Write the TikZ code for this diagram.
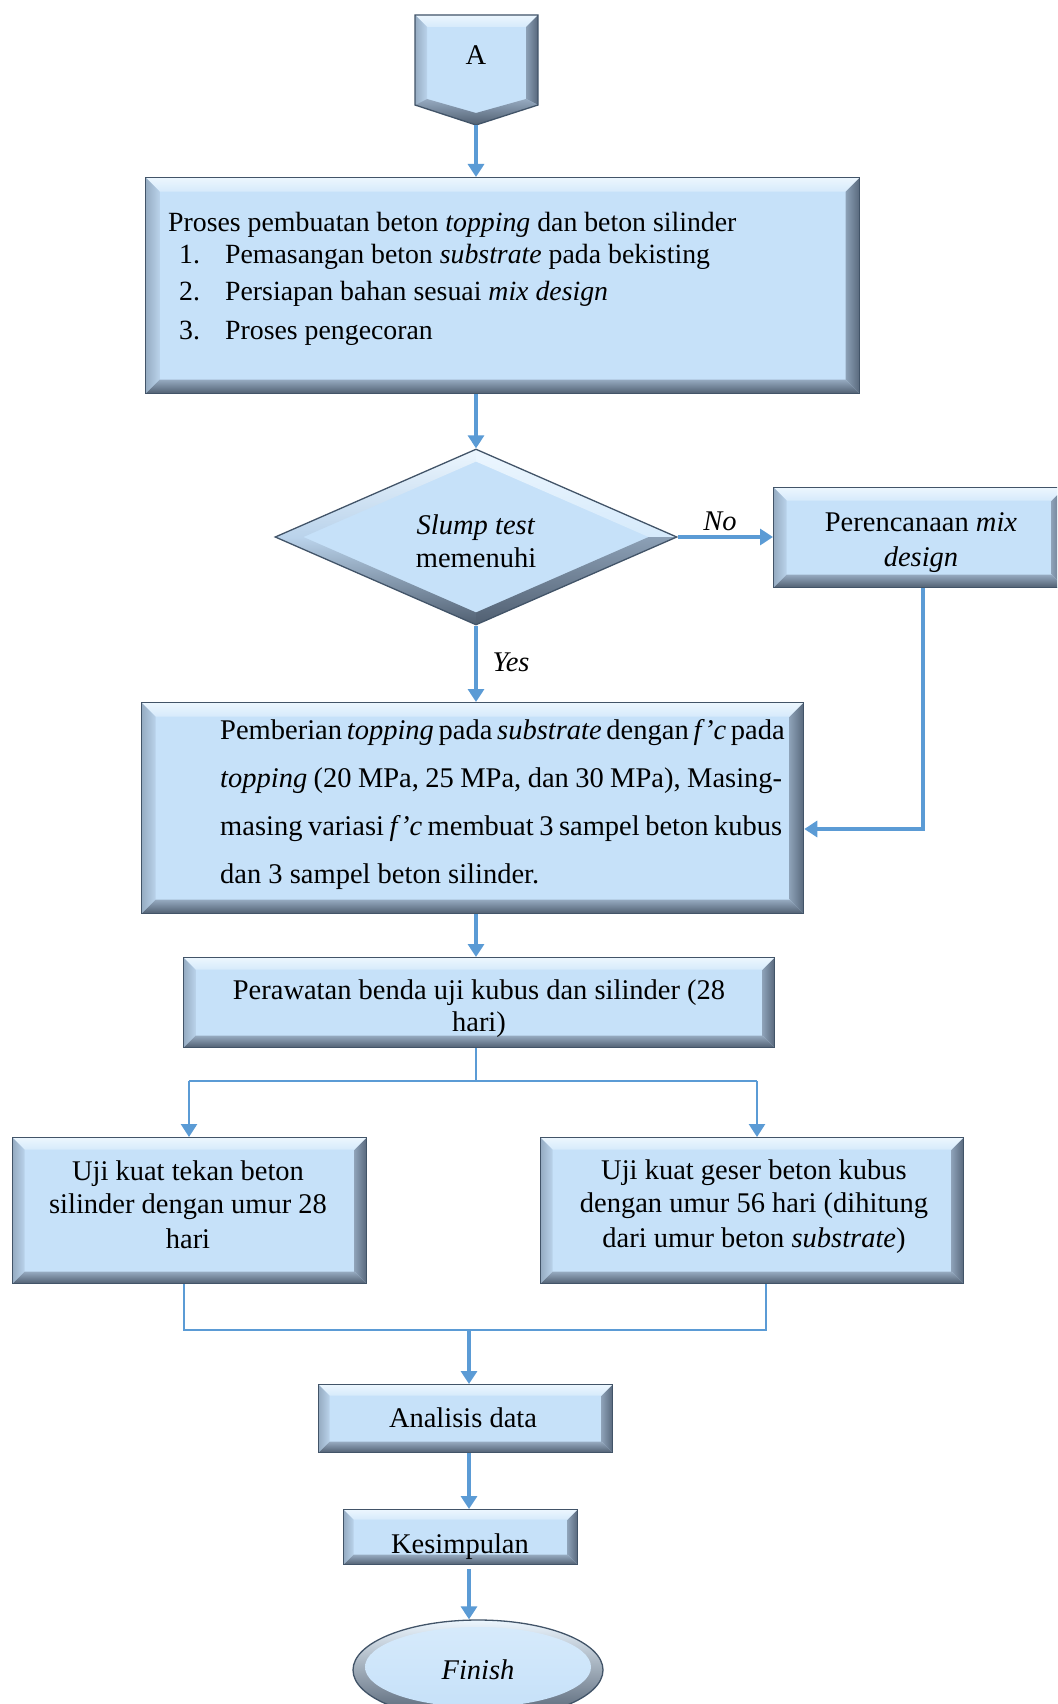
\documentclass[tikz,border=0pt]{standalone}
\usepackage{fontspec}
\setmainfont{Liberation Serif}
\usetikzlibrary{arrows.meta,shapes.geometric,calc}
\definecolor{fillb}{RGB}{198,225,249}
\definecolor{edgeb}{RGB}{66,84,104}
\definecolor{topo}{RGB}{236,246,254}
\definecolor{topi}{RGB}{214,234,251}
\definecolor{lefto}{RGB}{150,172,194}
\definecolor{lefti}{RGB}{186,211,235}
\definecolor{righto}{RGB}{88,104,124}
\definecolor{righti}{RGB}{140,160,182}
\definecolor{boto}{RGB}{80,95,113}
\definecolor{boti}{RGB}{150,170,192}
\definecolor{arr}{RGB}{91,155,213}
\newcommand\bevelfaces[1]{%
  \path (path picture bounding box.north west) coordinate (bvnw)
        (path picture bounding box.north east) coordinate (bvne)
        (path picture bounding box.south west) coordinate (bvsw)
        (path picture bounding box.south east) coordinate (bvse);
  \path ([xshift=#1pt,yshift=-#1pt]bvnw) coordinate (bvinw)
        ([xshift=-#1pt,yshift=-#1pt]bvne) coordinate (bvine)
        ([xshift=#1pt,yshift=#1pt]bvsw) coordinate (bvisw)
        ([xshift=-#1pt,yshift=#1pt]bvse) coordinate (bvise);
  \shade[top color=topo, bottom color=topi] (bvnw)--(bvne)--(bvine)--(bvinw)--cycle;
  \shade[left color=lefto, right color=lefti] (bvnw)--(bvinw)--(bvisw)--(bvsw)--cycle;
  \shade[left color=righti, right color=righto] (bvne)--(bvse)--(bvise)--(bvine)--cycle;
  \shade[top color=boti, bottom color=boto] (bvsw)--(bvisw)--(bvise)--(bvse)--cycle;
}
\newcommand\diamondfaces{%
  \path (path picture bounding box.north) coordinate (dmN)
        (path picture bounding box.south) coordinate (dmS)
        (path picture bounding box.east) coordinate (dmE)
        (path picture bounding box.west) coordinate (dmW)
        (path picture bounding box.center) coordinate (dmC);
  \path ($(dmC)!0.86!(dmN)$) coordinate (dmNi)
        ($(dmC)!0.86!(dmS)$) coordinate (dmSi)
        ($(dmC)!0.86!(dmE)$) coordinate (dmEi)
        ($(dmC)!0.86!(dmW)$) coordinate (dmWi);
  \shade[top color=topo, bottom color=lefti] (dmW)--(dmN)--(dmNi)--(dmWi)--cycle;
  \shade[top color=topo, bottom color=topi] (dmN)--(dmE)--(dmEi)--(dmNi)--cycle;
  \shade[top color=lefti, bottom color=boto] (dmW)--(dmWi)--(dmSi)--(dmS)--cycle;
  \shade[top color=righti, bottom color=boto] (dmS)--(dmSi)--(dmEi)--(dmE)--cycle;
}
\newcommand\ellipsefaces{%
  \shade[top color=topo, bottom color=boto] (path picture bounding box.south west) rectangle (path picture bounding box.north east);
  \shade[top color=topi, bottom color=fillb] ([yshift=3pt]path picture bounding box.center) ellipse (113pt and 40pt);
}
\tikzset{
  bevel/.style={rectangle, draw=edgeb, line width=1.3pt, fill=fillb, inner sep=0pt,
    align=center, path picture={\bevelfaces{#1}}},
  bevel/.default=13,
  flow/.style={draw=arr, line width=3.2pt, -{Triangle[length=13pt,width=16pt]}},
  flowthin/.style={draw=arr, line width=1.8pt},
  lbl/.style={font=\fontsize{28.5pt}{33pt}\selectfont\itshape, inner sep=0pt},
  txt/.style={inner sep=0pt, align=left},
  ctxt/.style={inner sep=0pt, align=center}
}
\begin{document}
\begin{tikzpicture}[x=1pt,y=-1pt, font=\fontsize{28.5pt}{33pt}\selectfont]
\useasboundingbox (0,0) rectangle (1057,1704);
\clip (0,0) rectangle (1057,1704);
\fill[white] (0,0) rectangle (1057,1704);

% ---- A (off-page connector) ----
\fill[fillb] (415,15) -- (538,15) -- (538,105) -- (476,125) -- (415,105) -- cycle;
\shade[top color=topo, bottom color=topi] (415,15) -- (538,15) -- (526,27) -- (427,27) -- cycle;
\shade[left color=lefto, right color=lefti] (415,15) -- (427,27) -- (427,99) -- (415,105) -- cycle;
\shade[left color=righti, right color=righto] (538,15) -- (538,105) -- (526,99) -- (526,27) -- cycle;
\shade[top color=boti, bottom color=boto] (415,105) -- (427,99) -- (476,113) -- (476,125) -- cycle;
\shade[top color=boti, bottom color=boto] (476,125) -- (476,113) -- (526,99) -- (538,105) -- cycle;
\draw[edgeb, line width=1.3pt] (415,15) -- (538,15) -- (538,105) -- (476,125) -- (415,105) -- cycle;
\node[inner sep=0pt] (A) at (476,55) {A};
\coordinate (Atip) at (476,125);
\coordinate (spine) at (476,0);
\coordinate (spineb) at (469,0);

% ---- Box 1 ----
\node[bevel=14, anchor=north west, minimum width=714pt, minimum height=216pt] (box1) at (145,177) {};
\node[txt, anchor=north west, font=\fontsize{27.8pt}{32pt}\selectfont] (t1) at (168,212)
 {Proses pembuatan beton \textit{topping} dan beton silinder\\[0pt]
  \hspace*{11pt}\makebox[46pt][l]{1.}Pemasangan beton \textit{substrate} pada bekisting\\[5pt]
  \hspace*{11pt}\makebox[46pt][l]{2.}Persiapan bahan sesuai \textit{mix design}\\[7pt]
  \hspace*{11pt}\makebox[46pt][l]{3.}Proses pengecoran};

% ---- Decision ----
\node[diamond, draw=edgeb, line width=1.3pt, fill=fillb, aspect=2.3, inner sep=0pt,
      minimum width=402pt, minimum height=176pt,
      path picture={\diamondfaces}] (dia) at (476,537) {};
\node[ctxt] (tdia) at (476,541) {\textit{Slump test}\\memenuhi};

% ---- Perencanaan ----
\node[bevel=13, anchor=north west, minimum width=291pt, minimum height=100pt] (perenc) at (773,487) {};
\node[ctxt] (tperenc) at (921,543) {Perencanaan \textit{mix}\\[2pt]\textit{design}};

% ---- Box 3 ----
\node[bevel=14, anchor=north west, minimum width=662pt, minimum height=211pt] (box3) at (141,702) {};
\node[txt, anchor=north west, font=\fontsize{28.5pt}{48pt}\selectfont] (t3) at (220,719)
 {\makebox[562pt][s]{Pemberian \textit{topping} pada \textit{substrate} dengan \textit{f’c} pada}\\
  \makebox[562pt][s]{\textit{topping} (20 MPa, 25 MPa, dan 30 MPa), Masing-}\\
  \makebox[562pt][s]{masing variasi \textit{f’c} membuat 3 sampel beton kubus}\\
  dan 3 sampel beton silinder.};

% ---- Box 4 ----
\node[bevel=12, anchor=north west, minimum width=591pt, minimum height=90pt] (box4) at (183,957) {};
\node[ctxt] (t4) at (479,1009) {Perawatan benda uji kubus dan silinder (28\\[-1pt]hari)};

% ---- Box 5 / Box 6 ----
\node[bevel=12, anchor=north west, minimum width=354pt, minimum height=146pt] (box5) at (12,1137) {};
\node[ctxt] (t5) at (188,1205)
 {Uji kuat tekan beton\\silinder dengan umur 28\\[2pt]hari};
\node[bevel=12, anchor=north west, minimum width=423pt, minimum height=146pt] (box6) at (540,1137) {};
\node[ctxt] (t6) at (754,1207)
 {Uji kuat geser beton kubus\\dengan umur 56 hari (dihitung\\[2pt]dari umur beton \textit{substrate})};

% ---- Analisis / Kesimpulan ----
\node[bevel=11, anchor=north west, minimum width=294pt, minimum height=68pt] (anal) at (318,1384) {};
\node[inner sep=0pt, anchor=base] (tanal) at (463,1427) {Analisis data};
\node[bevel=10, anchor=north west, minimum width=234pt, minimum height=55pt] (kes) at (343,1509) {};
\node[inner sep=0pt, anchor=base] (tkes) at (460,1553) {Kesimpulan};

% ---- Finish ----
\node[ellipse, draw=edgeb, line width=1.3pt, fill=fillb, inner sep=0pt,
      minimum width=250pt, minimum height=100pt, path picture={\ellipsefaces}] (fin) at (478,1670)
 {\textit{Finish}};

% ---- connectors ----
\draw[flow] (Atip) -- (Atip |- box1.north);
\draw[flow] (spine |- box1.south) -- (dia.north);
\draw[flow] (dia.east) -- (dia.east -| perenc.west);
\node[lbl] (no) at (720,521) {No};
\draw[flow] (dia.south) -- (dia.south |- box3.north);
\node[lbl] (yes) at (511,662) {Yes};
\coordinate (pd) at (923,829);
\draw[flow] (pd |- perenc.south) -- (pd) -- (box3.east |- pd);
\draw[flow] (spine |- box3.south) -- (spine |- box4.north);

\coordinate (s5) at (189,1081);
\coordinate (s6) at (757,1081);
\draw[flowthin] (spine |- box4.south) -- (spine |- s5);
\draw[flowthin] (s5) -- (s6);
\draw[flow, line width=2.6pt] (s5) -- (s5 |- box5.north);
\draw[flow, line width=2.6pt] (s6) -- (s6 |- box6.north);

\coordinate (m5) at (184,1330);
\coordinate (m6) at (766,1330);
\draw[flowthin] (m5 |- box5.south) -- (m5) -- (m6) -- (m6 |- box6.south);
\draw[flow] (spineb |- m5) -- (spineb |- anal.north);
\draw[flow] (spineb |- anal.south) -- (spineb |- kes.north);
\draw[flow] ([yshift=-4pt]spineb |- kes.south) -- (spineb |- fin.north);
\end{tikzpicture}
\end{document}
